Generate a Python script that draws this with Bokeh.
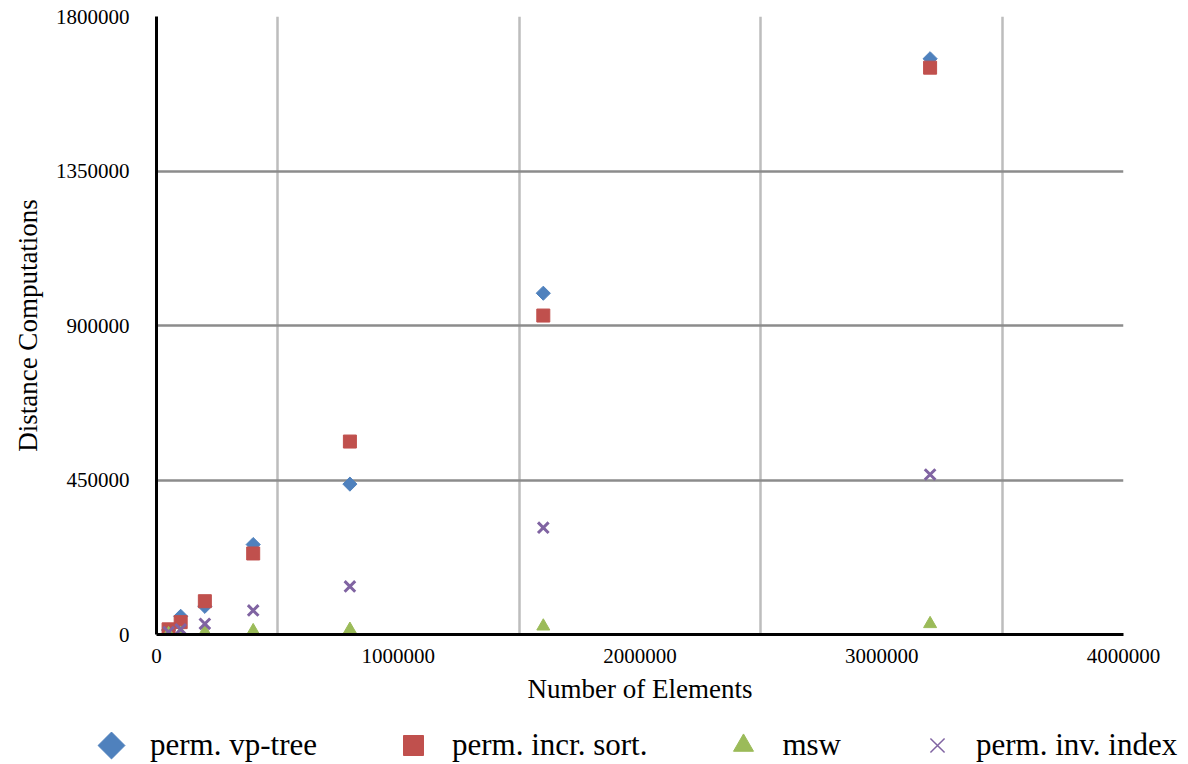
import math

from bokeh.plotting import figure
from bokeh.models import Legend, LegendItem, FixedTicker, BasicTickFormatter, Range1d
from bokeh.embed import file_html
from bokeh.resources import INLINE

# Number of indexed elements for every measurement
n_elements = [50000, 100000, 200000, 400000, 800000, 1600000, 3200000]

# Distance computations per method
perm_vp_tree = [13000, 53000, 82000, 262000, 438000, 994000, 1677000]
perm_incr_sort = [15000, 36000, 97000, 236000, 562000, 929000, 1651000]
msw = [2000, 3000, 7500, 10500, 14500, 24000, 31000]
perm_inv_index = [7000, 15000, 31000, 70000, 140000, 311000, 466000]

series_labels = ["perm. vp-tree", "perm. incr. sort.", "msw", "perm. inv. index"]

x_ticks = [0, 1000000, 2000000, 3000000, 4000000]
y_ticks = [0, 450000, 900000, 1350000, 1800000]
x_grid_ticks = [500000, 1500000, 2500000, 3500000]

FONT = "Liberation Serif"
BLUE = "#4F81BD"
RED = "#C0504D"
GREEN = "#9BBB59"
PURPLE = "#8064A2"

# marker styles of the chart
styles = [
    dict(marker="square", angle=math.pi / 4, size=10, fill_color=BLUE, line_color=BLUE),
    dict(marker="square", size=13, fill_color=RED, line_color=RED),
    dict(marker="triangle", size=13, fill_color=GREEN, line_color=GREEN),
    dict(marker="x", size=15, line_color=PURPLE, line_width=3),
]
# marker styles of the legend keys; the legend draws markers unrotated, so the
# diamond key is left transparent there and drawn separately as a turned square
key_styles = [
    dict(marker="square", fill_alpha=0, line_alpha=0),
    dict(marker="square", fill_color=RED, line_color=RED),
    dict(marker="triangle", fill_color=GREEN, line_color=GREEN),
    dict(marker="x", line_color=PURPLE, line_width=1.5),
]
series_values = [perm_vp_tree, perm_incr_sort, msw, perm_inv_index]

p = figure(
    width=1188, height=720,
    x_range=Range1d(0, 4000000), y_range=Range1d(0, 1800000),
    output_backend="svg", toolbar_location=None,
    min_border_left=156, min_border_right=65,
    min_border_top=16, min_border_bottom=86,
)
p.outline_line_color = None
p.background_fill_color = "white"

# grid
p.xgrid.ticker = FixedTicker(ticks=x_grid_ticks)
p.xgrid.grid_line_color = "#bdbdbd"
p.xgrid.grid_line_width = 2.5
p.ygrid.ticker = FixedTicker(ticks=y_ticks[1:])
p.ygrid.grid_line_color = "#8c8c8c"
p.ygrid.grid_line_width = 2.5

# axes
for ax in (p.xaxis[0], p.yaxis[0]):
    ax.axis_line_color = "black"
    ax.axis_line_width = 3
    ax.major_tick_line_color = None
    ax.minor_tick_line_color = None
    ax.major_tick_out = 0
    ax.major_tick_in = 0
    ax.major_label_text_font = FONT
    ax.major_label_text_font_size = "21px"
    ax.major_label_text_color = "black"
    ax.axis_label_text_font = FONT
    ax.axis_label_text_font_size = "27px"
    ax.axis_label_text_font_style = "normal"
    ax.axis_label_text_color = "black"
    ax.formatter = BasicTickFormatter(use_scientific=False)

p.xaxis.ticker = FixedTicker(ticks=x_ticks)
p.yaxis.ticker = FixedTicker(ticks=y_ticks)
p.xaxis.axis_label = "Number of Elements"
p.yaxis.axis_label = "Distance Computations"
p.xaxis.major_label_standoff = 14
p.xaxis.axis_label_standoff = 8
p.yaxis.major_label_standoff = 27
p.yaxis.axis_label_standoff = 10

# data series
for values, st in zip(series_values, styles):
    p.scatter(n_elements, values, **st)

# legend strip below the chart; its frame covers the whole strip and its
# ranges are in pixels
STRIP_W, STRIP_H = 1188, 44
LEG_X, LEG_Y = 86, -6          # legend bottom-left, relative to the strip
KEY_BOX = 50                   # legend glyph box

leg = figure(
    width=STRIP_W, height=STRIP_H,
    x_range=Range1d(0, STRIP_W), y_range=Range1d(0, STRIP_H),
    output_backend="svg", toolbar_location=None,
    x_axis_location=None, y_axis_location=None,
    min_border=0, min_border_left=0, min_border_right=0,
    min_border_top=0, min_border_bottom=0,
)
leg.grid.visible = False
leg.outline_line_color = None

# one key point per series, kept outside the strip's visible range
items = []
for lbl, st in zip(series_labels, key_styles):
    r = leg.scatter([-1000], [-1000], **st)
    items.append(LegendItem(label=lbl, renderers=[r]))

legend = Legend(
    items=items,
    orientation="horizontal",
    location=(LEG_X, LEG_Y),
    padding=0, margin=0,
    spacing=71, label_standoff=14,
    glyph_width=KEY_BOX, glyph_height=KEY_BOX,
    label_text_font=FONT, label_text_font_size="31px",
    label_text_color="black",
    border_line_alpha=0, background_fill_alpha=0,
)
leg.add_layout(legend)

# diamond key of the first legend entry, centred in its glyph box
leg.scatter([LEG_X + KEY_BOX / 2], [LEG_Y + KEY_BOX / 2], marker="square",
            angle=math.pi / 4, size=19, fill_color=BLUE, line_color=BLUE)

open("out.html", "w").write(file_html([p, leg], INLINE))
